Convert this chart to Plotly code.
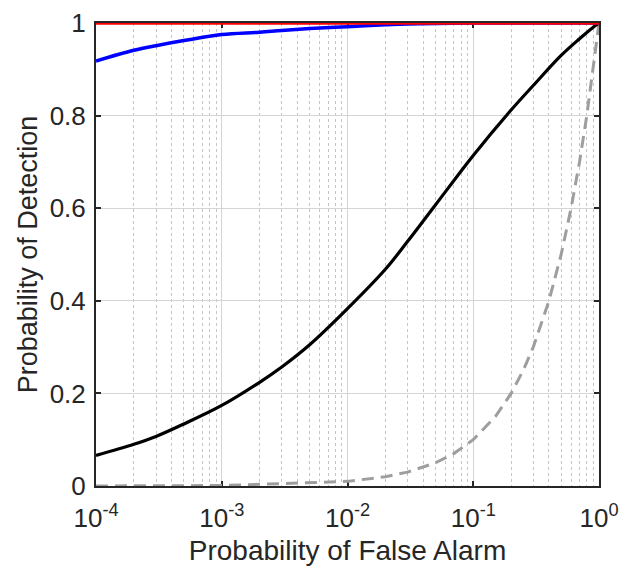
import plotly.graph_objects as go

# ---- data ----
pfa_black = [1e-4, 2e-4, 3e-4, 5e-4, 1e-3, 2e-3, 3e-3, 5e-3, 1e-2, 2e-2, 3e-2, 5e-2,
             1e-1, 2e-1, 3e-1, 5e-1, 7e-1, 9e-1, 1.0]
pd_black = [0.066, 0.090, 0.107, 0.134, 0.174, 0.224, 0.257, 0.305, 0.383, 0.468, 0.528, 0.607,
            0.714, 0.812, 0.865, 0.930, 0.966, 0.991, 1.0]

pfa_blue = [1e-4, 2e-4, 3e-4, 5e-4, 1e-3, 2e-3, 3e-3, 5e-3, 1e-2, 2e-2, 3e-2, 1e-1, 1.0]
pd_blue = [0.918, 0.941, 0.951, 0.962, 0.975, 0.980, 0.984, 0.988, 0.992, 0.996, 0.998, 1.0, 1.0]

pfa_red = [1e-4, 1.0]
pd_red = [1.0, 1.0]

pfa_chance = [1e-4, 1e-3, 1e-2, 2e-2, 3e-2, 5e-2, 7e-2, 1e-1, 1.5e-1, 2e-1, 2.5e-1, 3e-1,
              4e-1, 5e-1, 6e-1, 7e-1, 8e-1, 9e-1, 1.0]
pd_chance = [1e-4, 1e-3, 1e-2, 2e-2, 3e-2, 5e-2, 7e-2, 1e-1, 1.5e-1, 2e-1, 2.5e-1, 3e-1,
             4e-1, 5e-1, 6e-1, 7e-1, 8e-1, 9e-1, 1.0]

x_tickvals = [1e-4, 1e-3, 1e-2, 1e-1, 1.0]
x_ticktext = ["10<sup>-4</sup>", "10<sup>-3</sup>", "10<sup>-2</sup>", "10<sup>-1</sup>", "10<sup>0</sup>"]
y_tickvals = [0, 0.2, 0.4, 0.6, 0.8, 1.0]
y_ticktext = ["0", "0.2", "0.4", "0.6", "0.8", "1"]

minor_vals = [m * 10.0 ** e for e in range(-4, 0) for m in range(2, 10)]

AX = "#262626"
FONT = "Liberation Sans, Arial, sans-serif"

fig = go.Figure()
fig.add_trace(go.Scatter(x=pfa_chance, y=pd_chance, mode="lines",
                         line=dict(color="#9e9e9e", width=3, dash="12px,7px"),
                         showlegend=False))
fig.add_trace(go.Scatter(x=pfa_black, y=pd_black, mode="lines",
                         line=dict(color="black", width=3.2, shape="spline", smoothing=1.0),
                         showlegend=False))
fig.add_trace(go.Scatter(x=pfa_blue, y=pd_blue, mode="lines",
                         line=dict(color="#0000ff", width=3.5, shape="spline", smoothing=1.0),
                         showlegend=False))
fig.add_trace(go.Scatter(x=pfa_red, y=pd_red, mode="lines",
                         line=dict(color="#ff0000", width=3.5),
                         showlegend=False, cliponaxis=False))

# the page body adds an 8px margin, so the figure is sized/offset to compensate
fig.update_layout(
    width=620, height=562,
    margin=dict(l=88, r=29, t=15, b=84),
    paper_bgcolor="white", plot_bgcolor="white",
    font=dict(family=FONT, color=AX, size=26),
)
fig.update_xaxes(
    type="log", range=[-4, 0], automargin=False,
    tickvals=x_tickvals, ticktext=x_ticktext,
    tickfont=dict(family=FONT, size=26, color=AX),
    showline=True, linecolor=AX, linewidth=2, mirror="ticks",
    ticks="inside", ticklen=5, tickwidth=1.5, tickcolor=AX,
    showgrid=True, gridcolor="#d4d4d4", gridwidth=1,
    minor=dict(tickvals=minor_vals, showgrid=True, gridcolor="#c4c4c4",
               griddash="dot", gridwidth=1, ticks=""),
    zeroline=False, layer="below traces",
    title=dict(text="Probability of False Alarm", font=dict(family=FONT, size=28, color=AX), standoff=8),
    ticklabelstandoff=8,
)
fig.update_yaxes(
    range=[0, 1], automargin=False,
    tickvals=y_tickvals, ticktext=y_ticktext,
    tickfont=dict(family=FONT, size=26, color=AX),
    showline=True, linecolor=AX, linewidth=2, mirror="ticks",
    ticks="inside", ticklen=5, tickwidth=1.5, tickcolor=AX,
    showgrid=True, gridcolor="#d4d4d4", gridwidth=1,
    zeroline=False, layer="below traces",
    title=dict(text="Probability of Detection", font=dict(family=FONT, size=27, color=AX), standoff=4),
    ticklabelstandoff=3,
)

fig.write_html("out.html")
